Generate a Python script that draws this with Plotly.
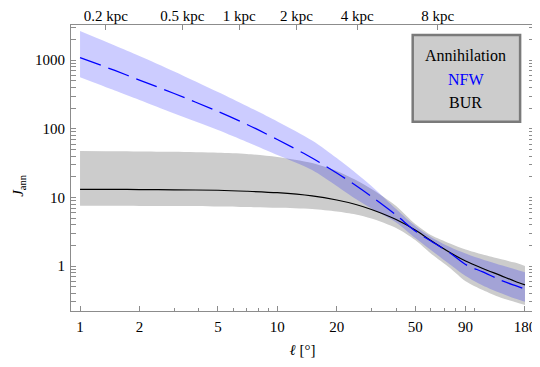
import plotly.graph_objects as go

# galactic longitude (deg)
ell = [1, 1.5, 2, 3, 5, 7, 10, 15, 20, 25, 30, 40, 50, 60, 75, 90, 110, 135, 160, 180]

# NFW profile, annihilation J-factor (central value and band)
nfw_mid = [1094, 708, 514, 327, 179, 116, 69.8, 37.5, 22.7, 14.9, 10.3, 5.53, 3.24, 2.31, 1.55, 1.05, 0.82, 0.625, 0.52, 0.46]
nfw_hi = [2667, 1637, 1151, 684, 344, 215, 128, 67.5, 37.5, 22.7, 14.7, 6.78, 3.83, 2.65, 1.89, 1.52, 1.24, 1.03, 0.90, 0.81]
nfw_lo = [564, 361, 263, 167, 96, 64.3, 41.5, 25.1, 14.7, 9.48, 6.89, 4.31, 2.56, 1.71, 1.05, 0.715, 0.52, 0.404, 0.336, 0.30]

# Burkert profile
bur_mid = [13.1, 13.1, 13.0, 12.9, 12.7, 12.3, 11.7, 10.5, 9.16, 7.89, 6.67, 4.76, 3.35, 2.35, 1.57, 1.18, 0.92, 0.73, 0.60, 0.53]
bur_hi = [47.4, 47.1, 46.8, 46.2, 44.7, 43.0, 38.8, 31.7, 24.3, 17.9, 13.2, 7.5, 4.09, 2.83, 2.13, 1.74, 1.47, 1.26, 1.12, 1.0]
bur_lo = [7.57, 7.55, 7.52, 7.50, 7.38, 7.24, 7.08, 6.78, 6.24, 5.64, 4.93, 3.58, 2.39, 1.52, 0.935, 0.60, 0.447, 0.347, 0.299, 0.27]

# top axis: distance labels
kpc_pos = [1.35, 3.3, 6.4, 12.5, 25.4, 65]
kpc_text = ["0.2 kpc", "0.5 kpc", "1 kpc", "2 kpc", "4 kpc", "8 kpc"]

x_ticks = [1, 2, 5, 10, 20, 50, 90, 180]
x_minor = [3, 4, 6, 7, 8, 9, 30, 40, 60, 70, 80, 100, 200]

FONT = "Liberation Serif"
FRAME = '#8c8c8c'

fig = go.Figure()

# BUR band
fig.add_trace(go.Scatter(x=ell, y=bur_lo, mode='lines', line=dict(width=0, shape='spline', smoothing=0.8),
                         showlegend=False, hoverinfo='skip'))
fig.add_trace(go.Scatter(x=ell, y=bur_hi, mode='lines', line=dict(width=0, shape='spline', smoothing=0.8),
                         fill='tonexty', fillcolor='rgb(204,204,204)', showlegend=False, hoverinfo='skip'))

# NFW band
fig.add_trace(go.Scatter(x=ell, y=nfw_lo, mode='lines', line=dict(width=0, shape='spline', smoothing=0.8),
                         showlegend=False, hoverinfo='skip'))
fig.add_trace(go.Scatter(x=ell, y=nfw_hi, mode='lines', line=dict(width=0, shape='spline', smoothing=0.8),
                         fill='tonexty', fillcolor='rgba(0,0,255,0.2)', showlegend=False, hoverinfo='skip'))

# central curves
fig.add_trace(go.Scatter(x=ell, y=bur_mid, mode='lines', name='BUR',
                         line=dict(color='black', width=1.2, shape='spline', smoothing=0.8)))
fig.add_trace(go.Scatter(x=ell, y=nfw_mid, mode='lines', name='NFW',
                         line=dict(color='blue', width=1.3, shape='spline', smoothing=0.8, dash='22px,8px')))

# dummy trace so the top axis is drawn
fig.add_trace(go.Scatter(x=[10], y=[10], xaxis='x2', mode='markers', marker=dict(opacity=0),
                         showlegend=False, hoverinfo='skip'))


def axis_style():
    return dict(type='log', showgrid=False, zeroline=False, automargin=False,
                linecolor=FRAME, linewidth=1, ticks='inside', tickcolor=FRAME, ticklen=5,
                tickfont=dict(family=FONT, size=15, color='black'))


# the page body adds an 8px offset, so the figure is sized 8px smaller
fig.update_layout(
    width=532, height=359,
    margin=dict(l=63, r=6, t=17, b=56),
    paper_bgcolor='white', plot_bgcolor='white',
    showlegend=False,
    font=dict(family=FONT, size=15, color='black'),
    xaxis=dict(axis_style(), range=[-0.0458, 2.301], tickvals=x_ticks,
               ticktext=[str(v) for v in x_ticks], mirror=True, ticklabelstandoff=2,
               minor=dict(tickvals=x_minor, ticklen=3, tickcolor=FRAME, ticks='inside'),
               title=dict(text='<i>ℓ</i> [°]', font=dict(family=FONT, size=15), standoff=10)),
    xaxis2=dict(axis_style(), range=[-0.0458, 2.301], overlaying='x', side='top', anchor='y',
                tickvals=kpc_pos, ticktext=kpc_text, showline=False, ticklabelstandoff=0),
    yaxis=dict(axis_style(), range=[-0.656, 3.513], tickvals=[1, 10, 100, 1000],
               ticktext=['1', '10', '100', '1000'], mirror='allticks', ticklabelstandoff=2,
               minor=dict(dtick='D1', ticklen=3, tickcolor=FRAME, ticks='inside')),
)

fig.add_annotation(text='<i>J</i><sub>ann</sub>', xref='paper', yref='paper', x=-0.113, y=0.44,
                   xanchor='center', yanchor='middle',
                   textangle=-90, showarrow=False, font=dict(family=FONT, size=15))

# legend box
fig.add_shape(type='rect', xref='paper', yref='paper', x0=0.738, x1=0.970, y0=0.662, y1=0.965,
              fillcolor='rgb(204,204,204)', line=dict(color='#7a7a7a', width=2.5))
legend_rows = [('Annihilation', 'black', 0.895), ('NFW', 'blue', 0.808), ('BUR', 'black', 0.728)]
for txt, col, yy in legend_rows:
    fig.add_annotation(text=txt, xref='paper', yref='paper', x=0.853, y=yy,
                       xanchor='center', yanchor='middle', showarrow=False,
                       font=dict(family=FONT, size=16, color=col))

fig.write_html("out.html")
